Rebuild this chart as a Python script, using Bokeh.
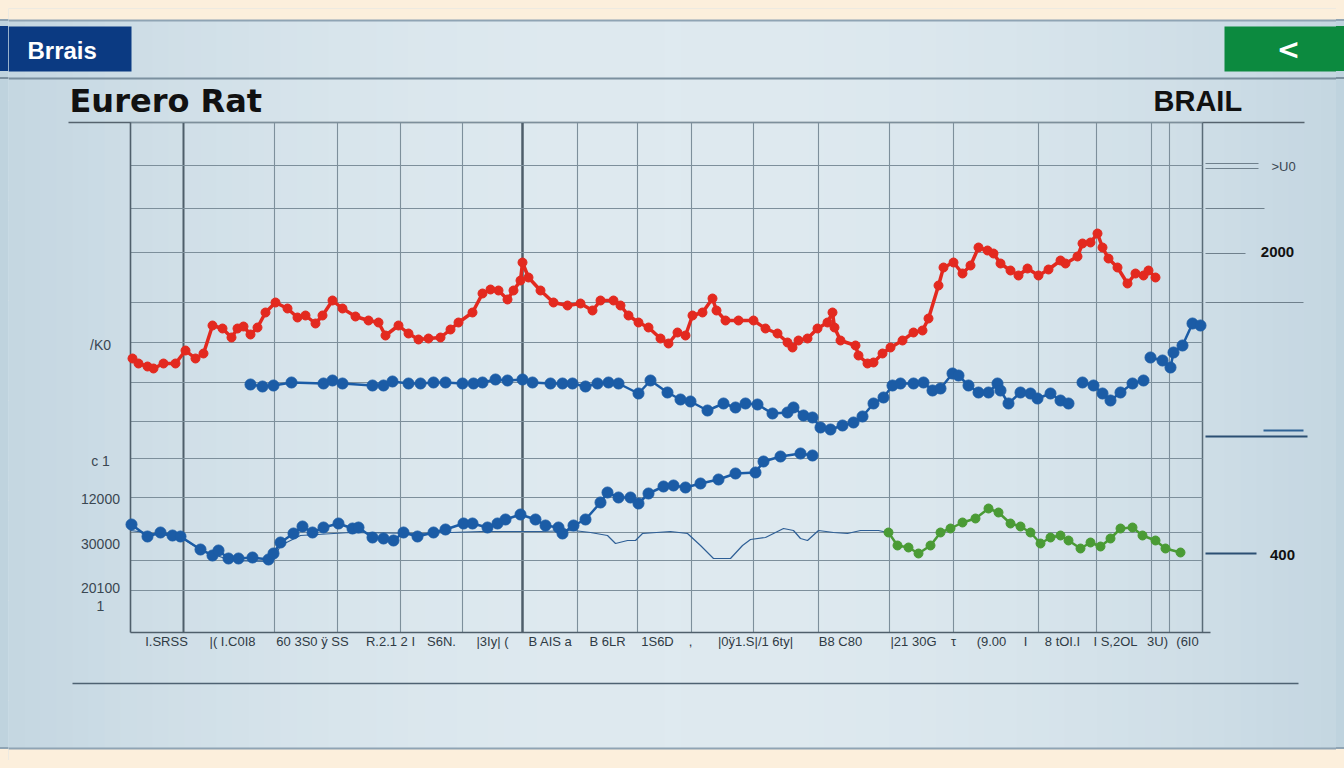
import numpy as np
from bokeh.plotting import figure
from bokeh.models import Range1d
from bokeh.core.properties import value
from bokeh.embed import file_html
from bokeh.resources import INLINE

nan = float("nan")

# ---------------- data (x: period index, y: rate units) ----------------
red_x = [0.2, 0.8, 1.7, 2.3, 3.3, 4.5, 5.5, 6.5, 7.3, 8.2,
         9.2, 10.1, 10.7, 11.3, 12.0, 12.7, 13.5, 14.5, 15.7, 16.7,
         17.5, 18.5, 19.2, 20.2, 21.2, 22.5, 23.8, 24.8, 25.5, 26.8,
         27.8, 28.8, 29.8, 31.0, 32.0, 32.8, 34.2, 35.2, 36.0, 36.8,
         37.7, 38.3, 39.0, 39.2, 39.8, 41.0, 42.3, 43.7, 45.0, 46.2,
         47.0, 48.3, 49.0, 49.8, 50.8, 51.8, 53.0, 53.8, 54.7, 55.5,
         56.2, 57.2, 58.2, 58.6, 59.5, 60.8, 62.3, 63.5, 64.7, 65.7,
         66.2, 66.8, 67.7, 68.7, 69.7, 70.2, 70.4, 71.0, 72.5, 72.8,
         73.7, 74.3, 75.2, 76.0, 77.2, 78.3, 79.2, 79.8, 80.8, 81.3,
         82.3, 83.2, 84.0, 84.8, 85.7, 86.3, 87.0, 88.0, 88.8, 89.7,
         90.8, 91.8, 93.0, 93.5, 94.7, 95.2, 96.0, 96.7, 97.2, 97.8,
         98.7, 99.7, 100.5, 101.3, 101.8, 102.5]
red_y = [54.8, 53.8, 53.2, 52.8, 53.8, 53.8, 56.4, 54.8, 55.8, 61.4,
         60.8, 59.0, 60.8, 61.2, 59.6, 61.0, 64.0, 66.0, 64.8, 63.0,
         63.4, 61.8, 63.4, 66.4, 64.8, 63.2, 62.4, 62.0, 59.4, 61.4,
         59.8, 58.6, 58.8, 59.0, 60.6, 62.0, 64.0, 67.8, 68.6, 68.4,
         66.6, 68.4, 70.4, 74.0, 71.0, 68.4, 66.0, 65.4, 65.8, 64.4,
         66.4, 66.4, 65.4, 63.4, 62.0, 61.0, 58.8, 57.8, 60.0, 59.4,
         63.4, 64.0, 66.8, 64.4, 62.4, 62.4, 62.4, 60.8, 59.8, 58.0,
         57.0, 58.4, 58.8, 60.8, 62.0, 64.0, 61.0, 58.4, 57.4, 55.4,
         53.8, 54.0, 55.8, 57.0, 58.4, 60.0, 60.4, 62.8, 69.4, 73.0,
         74.0, 71.8, 73.4, 77.0, 76.4, 75.8, 73.8, 72.4, 71.4, 72.8,
         71.4, 72.6, 74.4, 73.8, 75.2, 77.8, 78.0, 79.8, 77.0, 74.8,
         73.0, 69.8, 71.8, 71.4, 72.4, 71.0]

blue_hi_x = [12.0, 13.2, 14.3, 16.1, 19.3, 20.2, 21.2, 24.2, 25.3, 26.2,
             27.8, 29.0, 30.3, 31.5, 33.2, 34.3, 35.2, 36.5, 37.7, 39.2,
             40.2, 42.0, 43.2, 44.2, 45.5, 46.7, 47.8, 48.8, 50.8, 52.0,
             53.7, 55.0, 56.0, 57.7, 59.3, 60.5, 61.5, 62.7, 64.2, 65.7,
             66.3, 67.3, 68.2, 69.0, 70.0, 71.2, 72.3, 73.2, 74.3, 75.3,
             76.2, 77.0, 78.3, 79.3, 80.2, 81.0, 82.2, 82.8, 83.8, 84.8,
             85.8, 86.7, 87.0, 87.8, 89.0, 90.0, 90.7, 92.0, 93.0, 93.8,
             nan,
             95.2, 96.3, 97.2, 98.0, 99.0, 100.2, 101.3,
             nan,
             102.0, 103.2, 104.0, 104.3, 105.2, 106.2, 107.0]
blue_hi_y = [49.6, 49.2, 49.4, 50.0, 49.8, 50.4, 49.8, 49.4, 49.4, 50.2,
             49.8, 49.8, 50.0, 50.0, 49.8, 49.8, 50.0, 50.6, 50.4, 50.6,
             50.0, 49.8, 49.8, 49.8, 49.2, 49.8, 50.0, 49.8, 47.8, 50.4,
             48.0, 46.6, 46.2, 44.4, 45.8, 45.0, 45.8, 45.6, 43.8, 44.0,
             45.0, 43.4, 43.0, 41.0, 40.6, 41.4, 42.0, 43.2, 45.8, 47.0,
             49.4, 49.8, 49.8, 50.0, 48.4, 48.8, 51.8, 51.4, 49.4, 48.0,
             48.0, 49.8, 48.4, 45.8, 48.0, 47.8, 46.8, 47.8, 46.4, 45.8,
             nan,
             50.0, 49.4, 47.8, 46.4, 48.0, 49.8, 50.4,
             nan,
             55.0, 54.4, 53.0, 56.0, 57.4, 61.8, 61.4]

blue_lo_x = [0.1, 1.7, 3.0, 4.2, 5.0, 7.0, 8.2, 8.8, 9.8, 10.8,
             12.2, 13.8, 14.3, 15.0, 16.3, 17.2, 18.2, 19.3, 20.8, 22.2,
             22.8, 24.2, 25.3, 26.3, 27.3, 28.7, 30.3, 31.5, 33.3, 34.2,
             35.7, 36.7, 37.5, 39.0, 40.5, 41.5, 42.8, 43.2, 44.3, 45.5,
             47.0, 47.7, 48.8, 50.0, 50.8, 51.8, 53.3, 54.3, 55.5, 57.0,
             58.8, 60.5, 62.5, 63.3, 65.0, 67.0, 68.2]
blue_lo_y = [21.6, 19.2, 20.0, 19.4, 19.2, 16.6, 15.4, 16.4, 14.8, 14.8,
             15.0, 14.6, 15.8, 18.0, 19.8, 21.2, 20.0, 21.0, 21.8, 20.8,
             21.0, 19.0, 18.8, 18.4, 20.0, 19.2, 20.0, 20.6, 21.8, 21.8,
             21.0, 21.8, 22.6, 23.6, 22.6, 21.4, 21.0, 19.8, 21.4, 22.6,
             26.0, 28.0, 27.0, 27.0, 25.8, 27.8, 29.2, 29.4, 29.0, 29.8,
             30.6, 31.8, 32.0, 34.2, 35.2, 35.8, 35.4]

thin_x = [0.0, 3.0, 5.0, 7.0, 10.0, 14.2, 15.0, 17.0, 22.0, 29.0,
          35.0, 41.0, 44.3, 46.0, 47.7, 48.5, 49.7, 50.5, 51.2, 54.0,
          55.7, 57.0, 58.3, 60.0, 61.2, 62.0, 63.5, 65.3, 66.3, 67.0,
          67.7, 68.8, 70.3, 71.7, 73.0, 74.8, 75.7]
thin_y = [20.4, 19.6, 19.0, 16.6, 14.4, 14.2, 17.4, 19.4, 20.0, 19.8,
          20.2, 20.2, 20.4, 20.0, 19.4, 17.8, 18.4, 18.4, 19.8, 20.2,
          19.8, 17.4, 14.8, 14.8, 17.4, 18.6, 19.0, 20.8, 20.4, 18.8,
          18.4, 20.4, 20.0, 19.8, 20.4, 20.4, 20.0]

green_x = [75.8, 76.7, 77.8, 78.8, 80.0, 81.0, 82.0, 83.2, 84.5, 85.8,
           86.8, 88.0, 89.0, 90.0, 91.0, 92.0, 93.0, 93.8, 95.0, 96.0,
           97.0, 98.0, 99.0, 100.2, 101.2, 102.5, 103.5, 105.0]
green_y = [20.0, 17.4, 17.0, 15.8, 17.4, 20.0, 20.8, 22.0, 22.8, 24.8,
           24.0, 21.8, 21.2, 20.0, 17.8, 19.0, 19.4, 18.4, 16.8, 18.0,
           17.2, 18.8, 20.8, 21.0, 19.4, 18.4, 16.8, 16.0]

x_tick_labels = ["I.SRSS", "|( I.C0I8", "60 3S0 ÿ SS", "R.2.1 2 I", "S6N.",
                 "|3Iy| (", "B AIS a", "B 6LR", "1S6D", ",",
                 "|0ÿ1.S|/1 6ty|", "B8 C80", "|21 30G", "τ", "(9.00",
                 "I", "8 tOI.I", "I S,2OL", "3U)", "(6I0"]
x_tick_values = [3.6, 10.2, 18.2, 26.0, 31.1, 36.2, 42.0, 47.7, 52.7, 56.0,
                 62.5, 71.0, 78.3, 82.3, 86.1, 89.5, 93.2, 98.5, 102.7, 105.7]

left_labels = ["/K0", "c 1", "12000", "30000", "20100", "1"]
left_values = [57.6, 34.4, 26.8, 17.8, 9.0, 5.4]

right_labels = [">U0", "2000", "400"]
right_values = [93.2, 76.2, 15.6]

grid_x = [5.3, 14.4, 20.7, 27.0, 33.2, 39.2, 44.7, 50.7, 56.1, 62.3,
          68.8, 75.9, 82.3, 90.8, 96.6, 102.1, 103.9, 107.2]
grid_y = [8.4, 14.4, 20.0, 27.0, 34.8, 42.2, 50.0, 58.0, 66.0, 76.0,
          84.8, 93.4, 102.0]

# ---------------- layout ----------------
W, H = 1328, 752
PX0, PX1, PY0, PY1 = 8, 8 + W, 8, 8 + H      # page pixel extents of the canvas
CL, CR, CT, CB = 130, 1202, 122, 632          # chart region on page
X0, X1, Y0, Y1 = 0.0, 107.2, 0.0, 102.0       # data domain of the chart region

def dx(px):
    return X0 + (px - CL) * (X1 - X0) / (CR - CL)

def dy(py):
    return Y0 + (CB - py) * (Y1 - Y0) / (CB - CT)

p = figure(width=W, height=H, output_backend="svg", toolbar_location=None,
           x_range=Range1d(PX0, PX1), y_range=Range1d(PY1, PY0),
           x_axis_location=None, y_axis_location=None, title_location=None,
           min_border=0, min_border_left=0, min_border_right=0,
           min_border_top=0, min_border_bottom=0)
p.outline_line_color = None
p.background_fill_color = "#d3e3ea"
p.border_fill_color = "#fcefdc"
p.extra_x_ranges = {"dx": Range1d(dx(PX0), dx(PX1))}
p.extra_y_ranges = {"dy": Range1d(dy(PY1), dy(PY0))}

# panel background gradient (decoration)
edge = np.array([190, 210, 222])
mid = np.array([223, 234, 240])
bw = 16
lefts = np.arange(PX0, PX1, bw)
cols = []
for l in lefts:
    u = (l + bw / 2) / 1344.0
    s = max(0.0, 1 - ((u - 0.5) / 0.55) ** 2)
    c = edge + (mid - edge) * s
    cols.append("#%02x%02x%02x" % tuple(int(v) for v in c))
p.quad(left=lefts, right=lefts + bw + 0.5, top=[20] * len(lefts), bottom=[748] * len(lefts),
       fill_color=cols, line_color=None)
# cream page edges
p.quad(left=[PX0, PX0], right=[PX1, PX1], top=[PY0, 748], bottom=[20, PY1],
       fill_color="#fcefdc", line_color=None)
# panel border lines
p.segment(x0=[PX0, PX0, PX0], x1=[PX1, PX1, PX1], y0=[20, 78, 748], y1=[20, 78, 748],
          line_color=["#8fa4b4", "#7b909f", "#8fa4b4"], line_width=2)

# header boxes
p.quad(left=[PX0], right=[131], top=[26], bottom=[71], fill_color="#0b3a82", line_color=None)
p.quad(left=[1224], right=[PX1], top=[26], bottom=[71], fill_color="#0c8a3f", line_color=None)
p.text(x=[27], y=[50], text=["Brrais"], text_font=value("Liberation Sans"),
       text_font_style="bold", text_font_size="24px", text_color="white",
       text_baseline="middle", text_align="left")
p.text(x=[1288], y=[49], text=["<"], text_font=value("DejaVu Sans"),
       text_font_style="bold", text_font_size="28px", text_color="white",
       text_baseline="middle", text_align="center")

# titles
p.text(x=[69], y=[100], text=["Eurero Rat"], text_font=value("DejaVu Sans"),
       text_font_style="bold", text_font_size="32px", text_color="#111111",
       text_baseline="middle", text_align="left")
p.text(x=[1153], y=[100], text=["BRAIL"], text_font=value("Liberation Sans"),
       text_font_style="bold", text_font_size="29px", text_color="#111111",
       text_baseline="middle", text_align="left")

# rule above chart and footer rule
p.segment(x0=[68, 72], x1=[1304, 1298], y0=[122, 683], y1=[122, 683],
          line_color=["#55636e", "#4e6272"], line_width=[1.5, 1.5])

# right-side short rules
p.segment(x0=[1205, 1205, 1205, 1205, 1205], x1=[1258, 1258, 1264, 1245, 1303],
          y0=[163, 168, 208, 253, 302], y1=[163, 168, 208, 253, 302],
          line_color="#6f808c", line_width=1.2)
p.segment(x0=[1263, 1205, 1205], x1=[1303, 1307, 1256], y0=[430, 436, 553], y1=[430, 436, 553],
          line_color=["#2f6396", "#2b4f73", "#2b4f73"], line_width=[2, 1.8, 2])

# ---------------- chart grid (data coordinates) ----------------
kw = dict(x_range_name="dx", y_range_name="dy")
thin_gx = [g for g in grid_x if g not in (5.3, 39.2, 107.2)]
p.segment(x0=thin_gx, x1=thin_gx, y0=[Y0] * len(thin_gx), y1=[Y1] * len(thin_gx),
          line_color="#7d8f9b", line_width=1.1, **kw)
p.segment(x0=[5.3, 39.2, 107.2], x1=[5.3, 39.2, 107.2], y0=[Y0] * 3, y1=[Y1] * 3,
          line_color=["#4e5e6a", "#4e5e6a", "#5a6b77"], line_width=[2, 2.5, 1.5], **kw)
p.segment(x0=[X0] * len(grid_y), x1=[X1] * len(grid_y), y0=grid_y, y1=grid_y,
          line_color="#7d8f9b", line_width=1.1, **kw)
# axis lines
p.segment(x0=[X0, X0], x1=[X0, dx(1210)], y0=[Y0, Y0], y1=[Y1, Y0],
          line_color="#4f5f6b", line_width=1.6, **kw)

# ---------------- series ----------------
p.line(thin_x, thin_y, line_color="#2e5f96", line_width=1.2, **kw)
p.line(blue_lo_x, blue_lo_y, line_color="#1b5ca6", line_width=2.5, line_join="round", **kw)
p.scatter(blue_lo_x, blue_lo_y, size=11, color="#1b5ca6", **kw)
p.line(blue_hi_x, blue_hi_y, line_color="#1b5ca6", line_width=2.5, line_join="round", **kw)
p.scatter(blue_hi_x, blue_hi_y, size=11, color="#1b5ca6", **kw)
p.line(green_x, green_y, line_color="#4a9b35", line_width=2.5, line_join="round", **kw)
p.scatter(green_x, green_y, size=9, color="#4a9b35", **kw)
p.line(red_x, red_y, line_color="#e3291f", line_width=3.5, line_join="round", **kw)
p.scatter(red_x, red_y, size=9, color="#e3291f", **kw)

# ---------------- tick labels ----------------
p.text(x=x_tick_values, y=[dy(641)] * len(x_tick_values), text=x_tick_labels,
       text_font=value("Liberation Sans"), text_font_size="13px", text_color="#2f3a44",
       text_align="center", text_baseline="middle", **kw)
p.text(x=[dx(100)] * len(left_labels), y=left_values, text=left_labels,
       text_font=value("Liberation Sans"), text_font_size="14px", text_color="#3a4752",
       text_align="center", text_baseline="middle", **kw)
p.text(x=[dx(1283)], y=[right_values[0]], text=[right_labels[0]],
       text_font=value("Liberation Sans"), text_font_size="13px", text_color="#3a4752",
       text_align="center", text_baseline="middle", **kw)
p.text(x=[dx(1277), dx(1282)], y=right_values[1:], text=right_labels[1:],
       text_font=value("Liberation Sans"), text_font_style="bold", text_font_size="15px",
       text_color="#111111", text_align="center", text_baseline="middle", **kw)

html = file_html(p, INLINE)
css = ("<style>html,body{overflow:hidden;}body{margin:8px;background-color:#fcefdc;background:"
       "linear-gradient(#0b3a82,#0b3a82) 0 26px/8px 45px no-repeat,"
       "linear-gradient(#0c8a3f,#0c8a3f) 100% 26px/8px 45px no-repeat,"
       "linear-gradient(to bottom,#fcefdc 0px,#fcefdc 19px,#8fa4b4 19px,#8fa4b4 21px,"
       "#bfd3de 21px,#bfd3de 77px,#7b909f 77px,#7b909f 79px,#bfd3de 79px,#bfd3de 747px,"
       "#8fa4b4 747px,#8fa4b4 749px,#fcefdc 749px) 0 0/100% 768px no-repeat,#fcefdc;}</style>")
html = html.replace("</head>", css + "</head>", 1)
open("out.html", "w").write(html)
